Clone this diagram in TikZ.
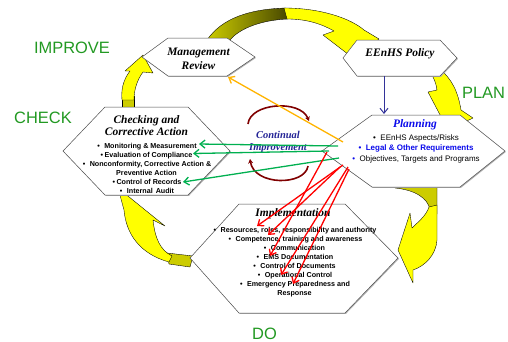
\documentclass[tikz,border=0pt]{standalone}
\usepackage{fontspec}
\setmainfont{Liberation Serif}
\setsansfont{Liberation Sans}
\usetikzlibrary{arrows.meta}

\definecolor{arrowyellow}{RGB}{255,255,0}
\definecolor{arrowolive}{RGB}{204,204,0}
\definecolor{phasegreen}{RGB}{34,153,34}
\definecolor{linkgreen}{RGB}{0,176,80}
\definecolor{linkorange}{RGB}{255,180,0}
\definecolor{linkred}{RGB}{255,0,0}
\definecolor{linkblue}{RGB}{51,51,153}
\definecolor{cyclered}{RGB}{128,0,0}
\definecolor{planblue}{RGB}{10,10,235}
\definecolor{cinavy}{RGB}{35,35,150}

% hexagon: #1 left x, #2/#3 corner x, #4 right x, #5 top y, #6 middle y, #7 bottom y
\newcommand\drawhexa[7]{%
  \begin{scope}[shift={(0.9,0.9)}]
    \fill[hexshadow] (#1,#6) -- (#2,#5) -- (#3,#5) -- (#4,#6) -- (#3,#7) -- (#2,#7) -- cycle;
  \end{scope}
  \path[hexa] (#1,#6) -- (#2,#5) -- (#3,#5) -- (#4,#6) -- (#3,#7) -- (#2,#7) -- cycle;}

\begin{document}
\begin{tikzpicture}[x=1bp,y=-1bp,
  hexa/.style={fill=white, draw=black!70, line width=0.5bp, line join=miter},
  hexshadow/.style={fill=black!30},
  yband/.style={fill=arrowyellow, draw=black, line width=0.35bp, line join=round},
  oband/.style={fill=arrowolive, draw=black, line width=0.35bp, line join=round},
  title/.style={font=\fontsize{11.5}{13}\selectfont\bfseries\itshape, anchor=base, inner sep=0pt},
  item/.style={font=\sffamily\bfseries\fontsize{7.2}{9}\selectfont, anchor=base, inner sep=0pt},
  plitem/.style={font=\sffamily\fontsize{8}{10}\selectfont, anchor=base, inner sep=0pt},
  phase/.style={font=\sffamily\fontsize{16.5}{18}\selectfont, text=phasegreen, anchor=base, inner sep=0pt},
  link/.style={line width=1.3bp, -{Straight Barb[length=5bp,width=8bp]}},
  cycle arc/.style={cyclered, line width=1.6bp, -{Stealth[length=4.5bp,width=5bp]}},
  ]
\useasboundingbox[fill=white] (0,0) rectangle (508,341);

% ---- curved block arrows of the cycle (under the hexagons) ----
% Management Review -> EEnHS Policy
\shade[left color=arrowolive, middle color=arrowolive, right color=arrowolive!35!black, draw=black, line width=0.35bp]
  (207,40) .. controls (222,18) and (250,9) .. (286,8) -- (288,19)
  .. controls (262,20) and (240,28) .. (230,40) -- cycle;
\path[yband] (284,8) .. controls (320,8) and (350,18) .. (364,30) -- (379,39) -- (353,58)
  -- (323,35) -- (334,31) .. controls (320,23) and (305,19) .. (287,19) -- cycle;
% EEnHS Policy -> Planning
\path[yband] (438,68) .. controls (452,78) and (458,92) .. (461,110) -- (473,118) -- (448,130)
  -- (428,92) -- (437,90) .. controls (436,83) and (434,78) .. (430,72) -- cycle;
% Planning -> Implementation
\path[oband] (395,183) -- (437,183) -- (437,214) -- (430,210)
  .. controls (428,198) and (415,190) .. (395,188) -- cycle;
\path[yband] (429,207) -- (437,205) -- (437,240) .. controls (436,255) and (425,266) .. (413,270)
  -- (413,283) -- (398,250) -- (410,213) -- (412,228) .. controls (418,222) and (426,216) .. (429,207) -- cycle;
% Implementation -> Checking
\path[oband] (167,253) -- (193,256) -- (190,267) -- (169,264) -- cycle;
\path[yband] (118,188) -- (165,226) -- (153,220) .. controls (155,238) and (160,250) .. (172,256)
  -- (169,262) .. controls (140,254) and (126,234) .. (124,210) -- cycle;
% Checking -> Management Review
\path[oband] (122,96) -- (134,96) -- (134,112) -- (122,112) -- cycle;
\path[yband] (122,100) .. controls (121,90) and (123,80) .. (130,71) -- (125,71) -- (143,55)
  -- (153,73) -- (143,72) .. controls (137,80) and (134,90) .. (134,100) -- cycle;

% ---- hexagons ----
\drawhexa{142}{168}{227}{255}{38}{57}{76}
\drawhexa{343}{357}{440}{457}{40}{58}{76}
\drawhexa{63}{105}{188}{230}{107}{151}{195}
\drawhexa{322}{372}{460}{505}{115}{151}{187}
\drawhexa{190}{239}{345}{398}{204}{258}{313}

% ---- phase labels ----
\node[phase] (improve) at (72,53) {IMPROVE};
\node[phase] (check) at (43,123) {CHECK};
\node[phase] (plan) at (483.5,98) {PLAN};
\node[phase] (do) at (264.5,339) {DO};

% ---- hexagon texts ----
\node[title] (mr1) at (198.5,55.8) {Management};
\node[title] (mr2) at (198.5,69.5) {Review};

\node[title] (pol) at (400,56.6) {EEnHS Policy};

\node[title] (ck-t1) at (146.5,123.5) {Checking and};
\node[title] (ck-t2) at (146.5,135.5) {Corrective Action};
\node[item] (ck1) at (147,148.6) {•\hspace{4.5pt}Monitoring \& Measurement};
\node[item] (ck2) at (146.5,157.9) {•\hspace{1.5pt}Evaluation of Compliance};
\node[item] (ck3) at (147,166.9) {•\hspace{4.5pt}Nonconformity, Corrective Action \&};
\node[item] (ck4) at (146.5,175.9) {Preventive Action};
\node[item] (ck5) at (147,184.9) {•\hspace{1.5pt}Control of Records};
\node[item] (ck6) at (147,193.9) {•\hspace{4.5pt}Internal\hspace{3pt}Audit};

\node[title, text=planblue] (pl-t) at (415,127.5) {Planning};
\node[plitem] (pl1) at (416,140.6) {•\hspace{4.5pt}EEnHS Aspects/Risks};
\node[plitem, text=planblue, font=\sffamily\bfseries\fontsize{8}{10}\selectfont] (pl2) at (416,150.9) {•\hspace{4.5pt}Legal \& Other Requirements};
\node[plitem] (pl3) at (416,161.2) {\textcolor{planblue}{•}\hspace{4.5pt}Objectives, Targets and Programs};

\node[title] (im-t) at (293,216) {Implementation};
\node[item] (im1) at (295,232.9) {•\hspace{4.5pt}Resources, roles, responsibility and authority};
\node[item] (im2) at (295.5,241.9) {•\hspace{4.5pt}Competence, training and awareness};
\node[item] (im3) at (294.5,250.9) {•\hspace{4.5pt}Communication};
\node[item] (im4) at (295,259.9) {•\hspace{4.5pt}EMS Documentation};
\node[item] (im5) at (294.5,268.9) {•\hspace{4.5pt}Control of Documents};
\node[item] (im6) at (295,277.3) {•\hspace{4.5pt}Operational Control};
\node[item] (im7) at (295,286.3) {•\hspace{4.5pt}Emergency Preparedness and};
\node[item] (im8) at (294.5,295.3) {Response};

% ---- continual improvement cycle ----
\coordinate (ci-a) at (248,124);
\coordinate (ci-b) at (309,121);
\coordinate (ci-c) at (308,166);
\coordinate (ci-d) at (250,159);
\draw[cycle arc] (ci-a) .. controls (250,103) and (300,99) .. (ci-b);
\draw[cycle arc] (ci-c) .. controls (305,186) and (254,186) .. (ci-d);
\node[title, text=cinavy, font=\fontsize{10.5}{12}\selectfont\bfseries\itshape] (ci1) at (278,138) {Continual};
\node[title, text=cinavy, font=\fontsize{10.5}{12}\selectfont\bfseries\itshape] (ci2) at (278,150.5) {Improvement};

% ---- connectors ----
\coordinate (pol-s) at (384,76);
\coordinate (pl-n) at (384,114);
\draw[link, linkblue, line width=1bp] (pol-s) -- (pl-n);

\coordinate (pl-o) at (343,142);
\coordinate (mr-se) at (228,77);
\draw[link, linkorange] (pl-o) -- (mr-se);

\coordinate (pl-g1) at (338,146);
\coordinate (pl-g2) at (329,151);
\coordinate (pl-g3) at (339,158);
\coordinate (ck1-e) at (199,144);
\coordinate (ck2-e) at (193,153.5);
\coordinate (ck5-e) at (183,182);
\draw[link, linkgreen] (pl-g1) -- (ck1-e);
\draw[link, linkgreen] (pl-g2) -- (ck2-e);
\draw[link, linkgreen] (pl-g3) -- (ck5-e);

\coordinate (pl-r1) at (343,165);
\coordinate (pl-r2) at (340,167);
\coordinate (pl-r3) at (327,152);
\coordinate (pl-r4) at (348,167);
\coordinate (pl-r5) at (349,169);
\coordinate (im1-p) at (257,226);
\coordinate (im2-p) at (268,235);
\coordinate (im4-p) at (270,256);
\coordinate (im6-p) at (281,275);
\coordinate (im7-p) at (293,284);
\draw[link, linkred] (pl-r1) -- (im1-p);
\draw[link, linkred] (pl-r2) -- (im2-p);
\draw[link, linkred] (pl-r3) -- (im4-p);
\draw[link, linkred] (pl-r4) -- (im6-p);
\draw[link, linkred] (pl-r5) -- (im7-p);
\end{tikzpicture}
\end{document}
